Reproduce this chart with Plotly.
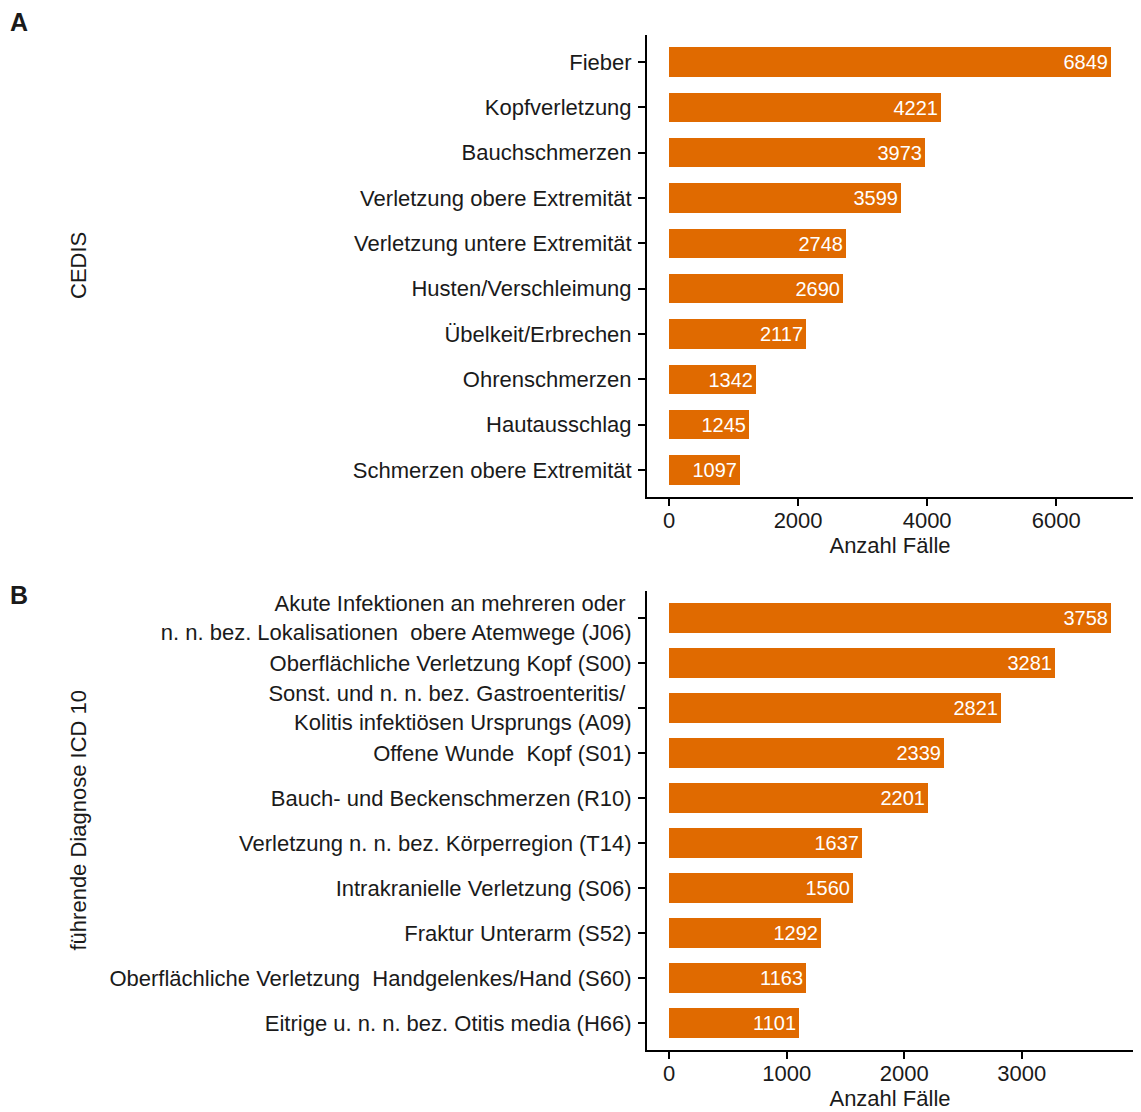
import plotly.graph_objects as go

# ---- data ----
cedis_labels = [
    "Fieber",
    "Kopfverletzung",
    "Bauchschmerzen",
    "Verletzung obere Extremität",
    "Verletzung untere Extremität",
    "Husten/Verschleimung",
    "Übelkeit/Erbrechen",
    "Ohrenschmerzen",
    "Hautausschlag",
    "Schmerzen obere Extremität",
]
cedis_values = [6849, 4221, 3973, 3599, 2748, 2690, 2117, 1342, 1245, 1097]

icd_labels = [
    "Akute Infektionen an mehreren oder <br>n. n. bez. Lokalisationen\u00a0 obere Atemwege (J06)",
    "Oberflächliche Verletzung Kopf (S00)",
    "Sonst. und n. n. bez. Gastroenteritis/ <br>Kolitis infektiösen Ursprungs (A09)",
    "Offene Wunde\u00a0 Kopf (S01)",
    "Bauch- und Beckenschmerzen (R10)",
    "Verletzung n. n. bez. Körperregion (T14)",
    "Intrakranielle Verletzung (S06)",
    "Fraktur Unterarm (S52)",
    "Oberflächliche Verletzung\u00a0 Handgelenkes/Hand (S60)",
    "Eitrige u. n. n. bez. Otitis media (H66)",
]
icd_values = [3758, 3281, 2821, 2339, 2201, 1637, 1560, 1292, 1163, 1101]

cedis_ticks = [0, 2000, 4000, 6000]
icd_ticks = [0, 1000, 2000, 3000]

# ---- styling ----
W, H = 1141, 1112
BAR = "#E06A00"
FONT = "Liberation Sans, Arial, sans-serif"
TXT = "#1a1a1a"

fig = go.Figure()

fig.add_trace(go.Bar(
    x=cedis_values, y=cedis_labels, orientation="h",
    xaxis="x", yaxis="y", width=0.65,
    marker=dict(color=BAR, line=dict(width=0)),
    text=[str(v) for v in cedis_values], textposition="inside",
    insidetextanchor="end",
    textfont=dict(color="white", size=20, family=FONT),
    hoverinfo="skip", showlegend=False,
))
fig.add_trace(go.Bar(
    x=icd_values, y=icd_labels, orientation="h",
    xaxis="x2", yaxis="y2", width=0.65,
    marker=dict(color=BAR, line=dict(width=0)),
    text=[str(v) for v in icd_values], textposition="inside",
    insidetextanchor="end",
    textfont=dict(color="white", size=20, family=FONT),
    hoverinfo="skip", showlegend=False,
))

xdom = [647 / W, 1133 / W]
yA = [1 - 497 / H, 1 - 35 / H]
yB = [1 - 1050 / H, 1 - 591 / H]

def xax(rng, ticks, anchor):
    return dict(
        domain=xdom, anchor=anchor, range=rng, tickvals=ticks,
        showline=True, linewidth=2, linecolor="black",
        ticks="outside", ticklen=7, tickwidth=2, tickcolor="black",
        showgrid=False, zeroline=False, ticklabelstandoff=-4,
        tickfont=dict(size=22, color=TXT, family=FONT),
        title=dict(text="Anzahl Fälle", font=dict(size=22, color=TXT, family=FONT), standoff=4),
        fixedrange=True,
    )

def yax(dom, anchor):
    return dict(
        domain=dom, anchor=anchor, type="category", range=[9.6, -0.6],
        showline=True, linewidth=2, linecolor="black",
        ticks="outside", ticklen=7, tickwidth=2, tickcolor="black",
        showgrid=False, zeroline=False, ticklabelstandoff=2,
        tickfont=dict(size=22, color=TXT, family=FONT),
        fixedrange=True,
    )

fig.update_layout(
    width=W, height=H,
    margin=dict(l=0, r=0, t=0, b=0),
    paper_bgcolor="white", plot_bgcolor="white",
    font=dict(family=FONT, color=TXT),
    bargap=0,
    uniformtext=dict(minsize=20, mode="show"),
    xaxis=xax([-342, 7191], cedis_ticks, "y"),
    yaxis=yax(yA, "x"),
    xaxis2=xax([-188, 3946], icd_ticks, "y2"),
    yaxis2=yax(yB, "x2"),
    annotations=[
        dict(text="<b>A</b>", x=8 / W, y=1 - 22 / H, xref="paper", yref="paper",
             xanchor="left", yanchor="middle", showarrow=False,
             font=dict(size=25, color=TXT, family=FONT)),
        dict(text="<b>B</b>", x=8 / W, y=1 - 595 / H, xref="paper", yref="paper",
             xanchor="left", yanchor="middle", showarrow=False,
             font=dict(size=25, color=TXT, family=FONT)),
        dict(text="CEDIS", x=78 / W, y=(yA[0] + yA[1]) / 2, xref="paper", yref="paper",
             xanchor="center", yanchor="middle", showarrow=False, textangle=-90,
             font=dict(size=22, color=TXT, family=FONT)),
        dict(text="führende Diagnose ICD 10", x=78 / W, y=(yB[0] + yB[1]) / 2,
             xref="paper", yref="paper", xanchor="center", yanchor="middle",
             showarrow=False, textangle=-90,
             font=dict(size=22, color=TXT, family=FONT)),
    ],
)

fig.write_html("out.html", config={"displayModeBar": False})
